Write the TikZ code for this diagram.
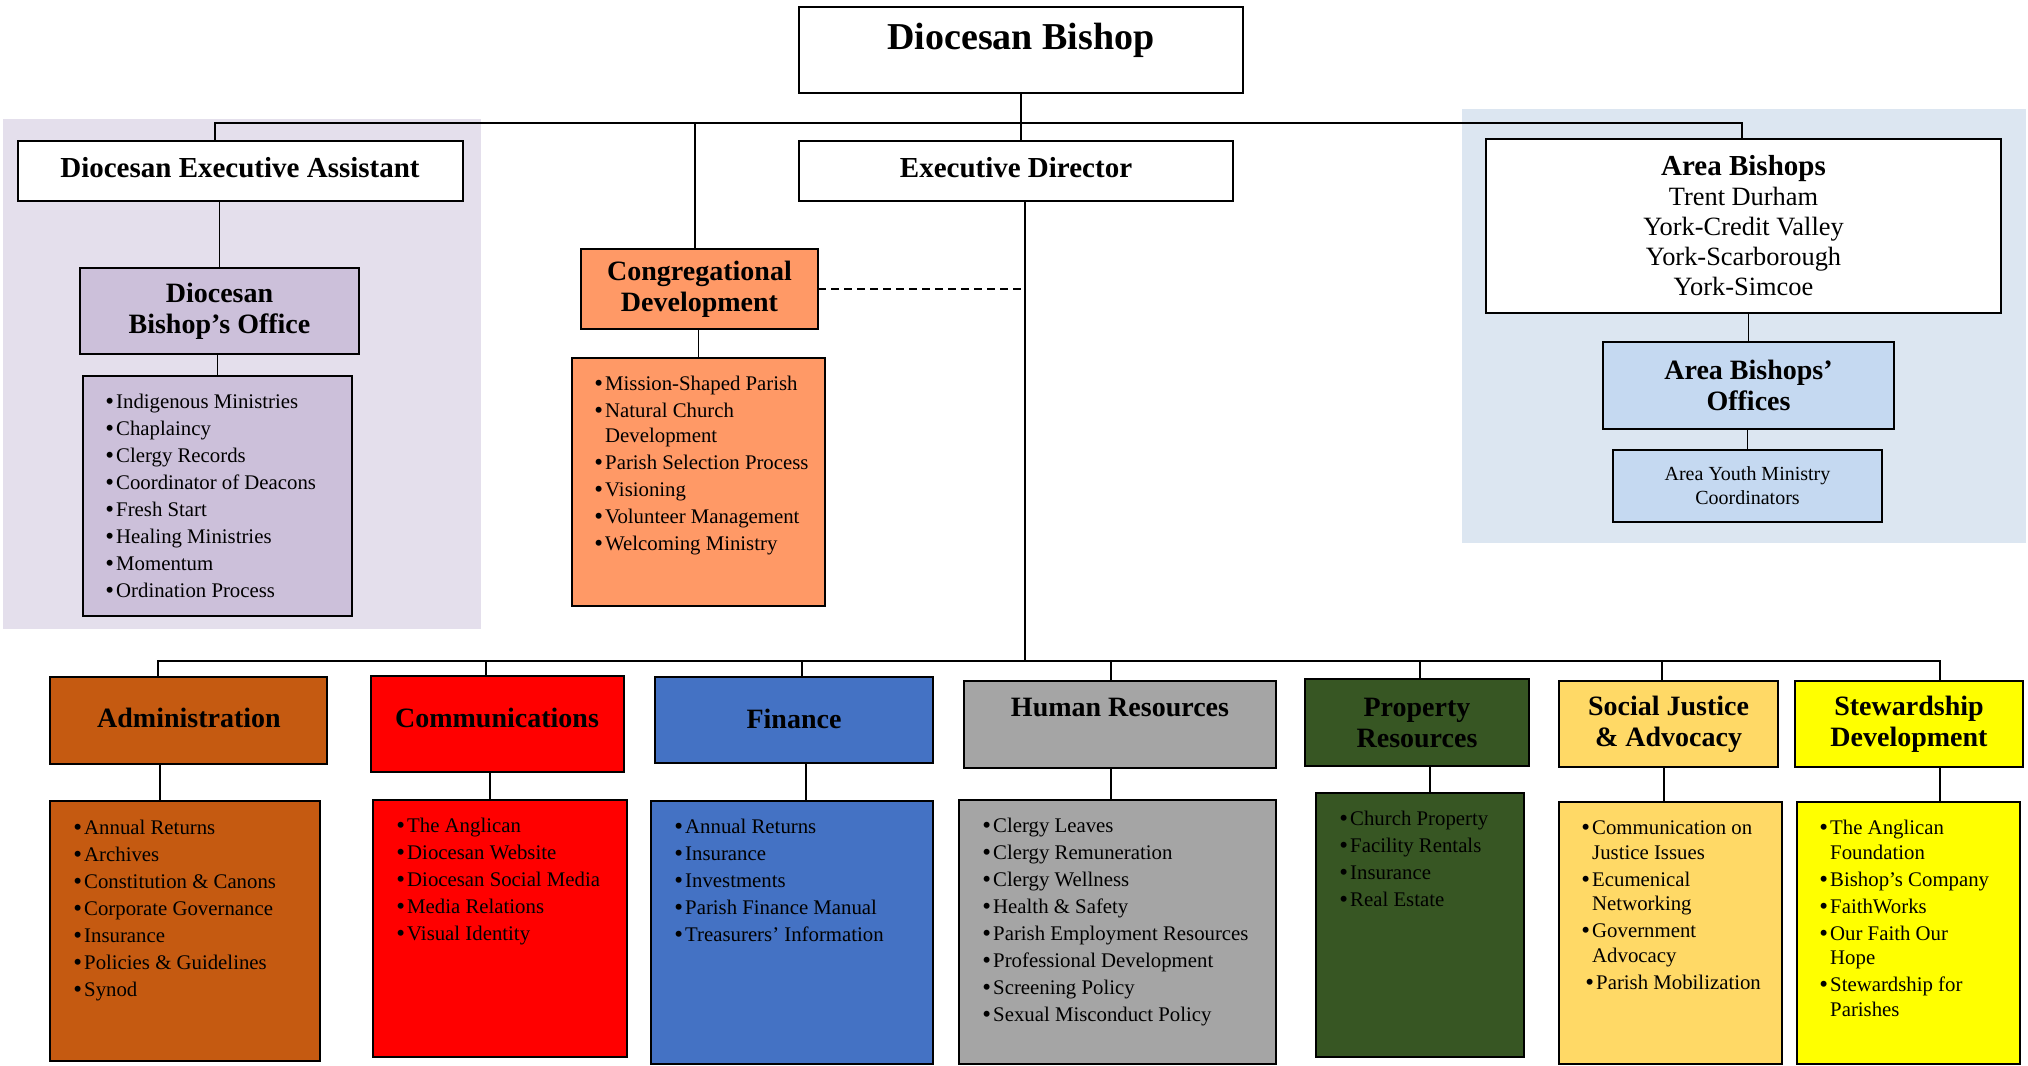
\documentclass[tikz,border=0pt]{standalone}
\usepackage{fontspec}
\usepackage{graphicx}
\setmainfont{Liberation Serif}
\definecolor{lavpanel}{HTML}{E4DFEC}
\definecolor{lavbox}{HTML}{CCC0DA}
\definecolor{bluepanel}{HTML}{DCE6F1}
\definecolor{bluebox}{HTML}{C5D9F1}
\definecolor{congc}{HTML}{FF9966}
\definecolor{admc}{HTML}{C55A11}
\definecolor{commc}{HTML}{FF0000}
\definecolor{finc}{HTML}{4472C4}
\definecolor{hrc}{HTML}{A5A5A5}
\definecolor{propc}{HTML}{375623}
\definecolor{socc}{HTML}{FFD966}
\definecolor{stewc}{HTML}{FFFF00}
\newcommand{\mkbox}[7]{\node[bx,#6,minimum width={(#4-#2)*0.5pt},minimum height={(#5-#3)*0.5pt}] (#1) at ({(#2+#4)/2},{(#3+#5)/2}) {#7};}
\newcommand{\itm}[1]{\strut\makebox[5.4pt][l]{\raisebox{-0.5pt}{\scalebox{1.2}{\textbullet}}}#1}
\newcommand{\cnt}[1]{\strut\hspace{5.4pt}#1}
\tikzset{
  bx/.style={draw=black, line width=1pt, inner sep=0pt, outer sep=0pt, rectangle},
  conn/.style={line width=0.8pt},
  head/.style={font=\fontsize{14}{15.5}\selectfont\bfseries, align=center},
  tophead/.style={font=\fontsize{14.5}{15.5}\selectfont\bfseries, align=center},
  lst/.style={anchor=north west, inner sep=0pt, align=left, font=\fontsize{10.4}{12.25}\selectfont},
}
\begin{document}
\begin{tikzpicture}[x=0.5pt,y=-0.5pt]
\useasboundingbox (0,0) rectangle (2028,1065);
% panels
\fill[lavpanel] (3,119) rectangle (481,629);
\fill[bluepanel] (1462,109) rectangle (2026,543);
% top level
\mkbox{bishop}{799}{7}{1243}{93}{fill=white}{}
\node[font=\fontsize{19}{21}\selectfont\bfseries] (bishopT) at (1021,40) {Diocesan Bishop};
\mkbox{dea}{18}{141}{463}{201}{fill=white}{}
\node[tophead] (deaT) at (240,168) {Diocesan Executive Assistant};
\mkbox{exec}{799}{141}{1233}{201}{fill=white}{}
\node[tophead] (execT) at (1016,168) {Executive Director};
\mkbox{ab}{1486}{139}{2001}{313}{fill=white,align=center,font=\fontsize{13.2}{15}\selectfont}{{\bfseries\fontsize{14.5}{15}\selectfont Area Bishops}\\Trent Durham\\York-Credit Valley\\York-Scarborough\\York-Simcoe}
% left column
\mkbox{dbo}{80}{268}{359}{354}{fill=lavbox,head}{Diocesan\\Bishop’s Office}
\mkbox{dbo-l}{83}{376}{352}{616}{fill=lavbox}{}
\node[lst] (dbo-t) at (105,391) {\itm{Indigenous Ministries}\\[1.25pt]\itm{Chaplaincy}\\[1.25pt]\itm{Clergy Records}\\[1.25pt]\itm{Coordinator of Deacons}\\[1.25pt]\itm{Fresh Start}\\[1.25pt]\itm{Healing Ministries}\\[1.25pt]\itm{Momentum}\\[1.25pt]\itm{Ordination Process}};
% congregational
\mkbox{cong}{581}{249}{818}{329}{fill=congc,head}{Congregational\\Development}
\mkbox{cong-l}{572}{358}{825}{606}{fill=congc}{}
\node[lst] (cong-t) at (594,373) {\itm{Mission-Shaped Parish}\\[1.25pt]\itm{Natural Church}\\\cnt{Development}\\[1.25pt]\itm{Parish Selection Process}\\[1.25pt]\itm{Visioning}\\[1.25pt]\itm{Volunteer Management}\\[1.25pt]\itm{Welcoming Ministry}};
% area bishops
\mkbox{abo}{1603}{342}{1894}{429}{fill=bluebox,head}{Area Bishops’\\Offices}
\mkbox{aymc}{1613}{450}{1882}{522}{fill=bluebox,align=center,font=\fontsize{10}{12}\selectfont}{Area Youth Ministry\\Coordinators}
% bottom heads
\mkbox{adm}{50}{677}{327}{764}{fill=admc}{}
\node[head] (admT) at (189,718) {Administration};
\mkbox{comm}{371}{676}{624}{772}{fill=commc}{}
\node[head] (commT) at (497,718) {Communications};
\mkbox{fin}{655}{677}{933}{763}{fill=finc}{}
\node[head] (finT) at (794,719) {Finance};
\mkbox{hr}{964}{681}{1276}{768}{fill=hrc}{}
\node[head] (hrT) at (1120,707) {Human Resources};
\mkbox{prop}{1305}{679}{1529}{766}{fill=propc,head}{Property\\Resources}
\mkbox{soc}{1559}{681}{1778}{767}{fill=socc,head}{Social Justice\\\&~Advocacy}
\mkbox{stew}{1795}{681}{2023}{767}{fill=stewc,head}{Stewardship\\Development}
% bottom lists
\mkbox{adm-l}{50}{801}{320}{1061}{fill=admc}{}
\node[lst] (adm-t) at (73,817) {\itm{Annual Returns}\\[1.25pt]\itm{Archives}\\[1.25pt]\itm{Constitution \& Canons}\\[1.25pt]\itm{Corporate Governance}\\[1.25pt]\itm{Insurance}\\[1.25pt]\itm{Policies \& Guidelines}\\[1.25pt]\itm{Synod}};
\mkbox{comm-l}{373}{800}{627}{1057}{fill=commc}{}
\node[lst] (comm-t) at (396,815) {\itm{The Anglican}\\[1.25pt]\itm{Diocesan Website}\\[1.25pt]\itm{Diocesan Social Media}\\[1.25pt]\itm{Media Relations}\\[1.25pt]\itm{Visual Identity}};
\mkbox{fin-l}{651}{801}{933}{1064}{fill=finc}{}
\node[lst] (fin-t) at (674,816) {\itm{Annual Returns}\\[1.25pt]\itm{Insurance}\\[1.25pt]\itm{Investments}\\[1.25pt]\itm{Parish Finance Manual}\\[1.25pt]\itm{Treasurers’ Information}};
\mkbox{hr-l}{959}{800}{1276}{1064}{fill=hrc}{}
\node[lst] (hr-t) at (982,815) {\itm{Clergy Leaves}\\[1.25pt]\itm{Clergy Remuneration}\\[1.25pt]\itm{Clergy Wellness}\\[1.25pt]\itm{Health \& Safety}\\[1.25pt]\itm{Parish Employment Resources}\\[1.25pt]\itm{Professional Development}\\[1.25pt]\itm{Screening Policy}\\[1.25pt]\itm{Sexual Misconduct Policy}};
\mkbox{prop-l}{1316}{793}{1524}{1057}{fill=propc}{}
\node[lst] (prop-t) at (1339,808) {\itm{Church Property}\\[1.25pt]\itm{Facility Rentals}\\[1.25pt]\itm{Insurance}\\[1.25pt]\itm{Real Estate}};
\mkbox{soc-l}{1559}{802}{1782}{1064}{fill=socc}{}
\node[lst] (soc-t) at (1581,817) {\itm{Communication on}\\\cnt{Justice Issues}\\[1.25pt]\itm{Ecumenical}\\\cnt{Networking}\\[1.25pt]\itm{Government}\\\cnt{Advocacy}\\[1.25pt]\hspace{2pt}\itm{Parish Mobilization}};
\mkbox{stew-l}{1797}{802}{2020}{1064}{fill=stewc}{}
\node[lst] (stew-t) at (1819,817) {\itm{The Anglican}\\\cnt{Foundation}\\[1.25pt]\itm{Bishop’s Company}\\[1.25pt]\itm{FaithWorks}\\[1.25pt]\itm{Our Faith Our}\\\cnt{Hope}\\[1.25pt]\itm{Stewardship for}\\\cnt{Parishes}};
% connectors top
\coordinate (tL) at (215,123);
\coordinate (tC) at (695,123);
\coordinate (tR) at (1742,123);
\draw[conn] (bishop.south) -- (bishop.south |- exec.north);
\draw[conn] (dea.north -| tL) -- (tL) -- (tR) -- (ab.north -| tR);
\draw[conn] (tC) -- (cong.north -| tC);
\draw[conn] (dbo.north) -- (dbo.north |- dea.south);
\draw[conn] (dbo-l.north) -- (dbo-l.north |- dbo.south);
\draw[conn] (cong-l.north) -- (cong-l.north |- cong.south);
\draw[conn] (abo.north) -- (abo.north |- ab.south);
\draw[conn] (aymc.north) -- (aymc.north |- abo.south);
% executive line and bottom bus
\coordinate (ev) at ([xshift=4.5pt]exec.south);
\coordinate (bL) at (158,661);
\coordinate (bR) at (1940,661);
\draw[conn] (ev) -- (ev |- bL);
\draw[conn, dash pattern=on 4pt off 2.5pt] (cong.east) -- (cong.east -| ev);
\draw[conn] (adm.north -| bL) -- (bL) -- (bR) -- (stew.north -| bR);
\foreach \n/\x in {comm/486, fin/802, hr/1111, prop/1420, soc/1662}{
  \coordinate (d-\n) at (\x,661);
  \draw[conn] (d-\n) -- (\n.north -| d-\n);
}
\foreach \n/\x in {adm/160, comm/490, fin/806, hr/1111, prop/1430, soc/1664, stew/1940}{
  \coordinate (v-\n) at (\x,0);
  \draw[conn] (\n.south -| v-\n) -- (\n-l.north -| v-\n);
}
\end{tikzpicture}
\end{document}
